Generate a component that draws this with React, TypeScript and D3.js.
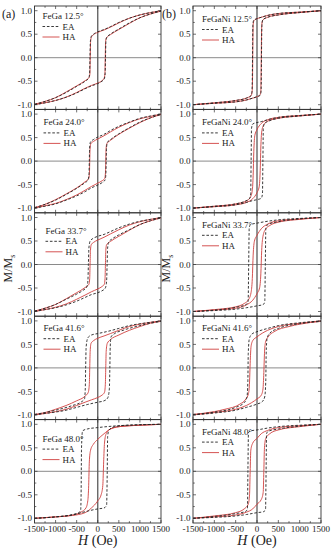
import * as d3 from "d3";

const ALLOYS = ["FeGa", "FeGaNi"];
const ANGLES = ["12.5°", "24.0°", "33.7°", "41.6°", "48.0°"];
const TAGS = ["(a)", "(b)"];
const H_LABELS = [-1500, -1000, -500, 0, 500, 1000, 1500];
const M_LABELS = [-1, -0.5, 0, 0.5, 1];

// descending branches [H (Oe), M/Ms]
const feGaHA = [
  [[1500, 1.0], [1250, 0.96], [1000, 0.91], [750, 0.84], [500, 0.74], [300, 0.65], [150, 0.59], [0, 0.54], [-100, 0.49], [-150, 0.44], [-170, 0.34], [-178, 0], [-186, -0.34], [-205, -0.42], [-300, -0.49], [-500, -0.6], [-750, -0.73], [-1000, -0.85], [-1250, -0.93], [-1500, -0.99]],
  [[1500, 1.0], [1250, 0.95], [1000, 0.9], [750, 0.82], [500, 0.72], [300, 0.62], [150, 0.54], [0, 0.47], [-100, 0.42], [-165, 0.37], [-183, 0.25], [-190, 0], [-197, -0.25], [-215, -0.37], [-300, -0.44], [-500, -0.57], [-750, -0.7], [-1000, -0.82], [-1250, -0.92], [-1500, -0.99]],
  [[1500, 1.0], [1250, 0.96], [1000, 0.91], [750, 0.84], [500, 0.74], [300, 0.65], [150, 0.58], [0, 0.52], [-100, 0.47], [-155, 0.42], [-173, 0.3], [-182, 0], [-191, -0.3], [-210, -0.42], [-300, -0.49], [-500, -0.6], [-750, -0.73], [-1000, -0.85], [-1250, -0.93], [-1500, -0.99]],
  [[1500, 1.0], [1250, 0.97], [1000, 0.93], [750, 0.88], [500, 0.8], [300, 0.73], [150, 0.68], [0, 0.63], [-100, 0.58], [-160, 0.52], [-180, 0.35], [-190, 0], [-200, -0.35], [-225, -0.52], [-300, -0.6], [-500, -0.7], [-750, -0.8], [-1000, -0.88], [-1250, -0.95], [-1500, -0.99]],
  [[1500, 1.0], [1000, 0.98], [600, 0.96], [300, 0.9], [150, 0.8], [0, 0.68], [-100, 0.58], [-170, 0.45], [-200, 0.2], [-215, -0.3], [-235, -0.62], [-280, -0.78], [-400, -0.87], [-600, -0.93], [-1000, -0.97], [-1500, -1.0]],
];
const feGaEA = [
  [[1500, 1.0], [1250, 0.96], [1000, 0.91], [750, 0.84], [500, 0.75], [300, 0.66], [150, 0.6], [0, 0.55], [-100, 0.5], [-155, 0.45], [-175, 0.34], [-184, 0], [-193, -0.34], [-212, -0.43], [-300, -0.5], [-500, -0.61], [-750, -0.74], [-1000, -0.85], [-1250, -0.93], [-1500, -0.99]],
  [[1500, 1.0], [1250, 0.96], [1000, 0.91], [750, 0.83], [500, 0.74], [300, 0.65], [150, 0.57], [0, 0.51], [-100, 0.46], [-175, 0.4], [-193, 0.27], [-200, 0], [-207, -0.27], [-230, -0.4], [-320, -0.47], [-500, -0.58], [-750, -0.71], [-1000, -0.83], [-1250, -0.92], [-1500, -0.99]],
  [[1500, 1.0], [1250, 0.96], [1000, 0.92], [750, 0.86], [500, 0.78], [300, 0.7], [150, 0.64], [0, 0.6], [-100, 0.56], [-180, 0.5], [-210, 0.35], [-222, 0], [-234, -0.35], [-262, -0.48], [-350, -0.55], [-500, -0.63], [-750, -0.74], [-1000, -0.85], [-1250, -0.93], [-1500, -0.99]],
  [[1500, 1.0], [1250, 0.97], [1000, 0.94], [750, 0.9], [500, 0.84], [250, 0.78], [0, 0.73], [-150, 0.7], [-235, 0.64], [-275, 0.45], [-287, 0], [-296, -0.45], [-315, -0.66], [-400, -0.73], [-600, -0.8], [-1000, -0.9], [-1250, -0.95], [-1500, -0.99]],
  [[1500, 1.0], [1000, 0.99], [500, 0.97], [0, 0.93], [-250, 0.9], [-360, 0.86], [-385, 0.5], [-395, -0.5], [-405, -0.82], [-450, -0.88], [-600, -0.92], [-1000, -0.97], [-1500, -1.0]],
];
// ascending branches that are not a mirror of the descending one
const feGaHAUp = [null, null, null, null,
  [[-1500, -1.0], [-1000, -0.97], [-600, -0.94], [-300, -0.88], [-150, -0.78], [0, -0.63], [80, -0.5], [120, -0.3], [140, 0.2], [160, 0.6], [200, 0.8], [300, 0.9], [500, 0.95], [1000, 0.98], [1500, 1.0]],
];
const feGaEAUp = [null, null, null, null,
  [[-1500, -1.0], [-1000, -0.97], [-600, -0.93], [-300, -0.86], [0, -0.8], [150, -0.78], [210, -0.72], [225, 0], [235, 0.75], [270, 0.88], [400, 0.95], [700, 0.98], [1500, 1.0]],
];

const feGaNiHA = [
  [[1500, 1.0], [1000, 0.97], [500, 0.94], [250, 0.9], [100, 0.86], [0, 0.83], [-70, 0.79], [-90, 0.7], [-97, 0.3], [-103, -0.3], [-112, -0.7], [-135, -0.8], [-250, -0.86], [-500, -0.91], [-1000, -0.96], [-1500, -1.0]],
  [[1500, 1.0], [1000, 0.97], [500, 0.93], [250, 0.88], [100, 0.8], [0, 0.67], [-50, 0.55], [-75, 0.2], [-90, -0.3], [-110, -0.62], [-150, -0.76], [-250, -0.85], [-500, -0.91], [-1000, -0.96], [-1500, -1.0]],
  [[1500, 1.0], [1000, 0.97], [500, 0.93], [250, 0.86], [100, 0.76], [0, 0.62], [-60, 0.5], [-90, 0.2], [-110, -0.3], [-140, -0.6], [-200, -0.75], [-300, -0.83], [-500, -0.9], [-1000, -0.96], [-1500, -1.0]],
  [[1500, 1.0], [1000, 0.95], [500, 0.88], [250, 0.8], [0, 0.66], [-100, 0.58], [-140, 0.45], [-160, 0.1], [-175, -0.3], [-200, -0.55], [-260, -0.66], [-400, -0.77], [-750, -0.88], [-1000, -0.93], [-1500, -0.99]],
  [[1500, 1.0], [1000, 0.97], [500, 0.93], [250, 0.87], [100, 0.8], [0, 0.7], [-100, 0.6], [-145, 0.45], [-160, 0.0], [-175, -0.5], [-205, -0.7], [-300, -0.8], [-500, -0.88], [-1000, -0.95], [-1500, -1.0]],
];
const feGaNiEA = [
  [[1500, 1.0], [1000, 0.97], [500, 0.94], [250, 0.9], [100, 0.86], [0, 0.83], [-75, 0.8], [-95, 0.72], [-102, 0.3], [-108, -0.3], [-117, -0.72], [-140, -0.81], [-250, -0.86], [-500, -0.91], [-1000, -0.96], [-1500, -1.0]],
  [[1500, 1.0], [1000, 0.97], [500, 0.93], [250, 0.88], [100, 0.84], [0, 0.82], [-100, 0.79], [-128, 0.7], [-138, 0.0], [-148, -0.7], [-170, -0.79], [-300, -0.86], [-500, -0.91], [-1000, -0.96], [-1500, -1.0]],
  [[1500, 1.0], [1000, 0.98], [500, 0.95], [250, 0.92], [0, 0.88], [-150, 0.85], [-182, 0.78], [-195, 0.0], [-208, -0.78], [-250, -0.85], [-500, -0.91], [-1000, -0.97], [-1500, -1.0]],
  [[1500, 1.0], [1000, 0.96], [500, 0.9], [250, 0.84], [0, 0.77], [-120, 0.72], [-180, 0.62], [-205, 0.3], [-215, -0.3], [-235, -0.62], [-300, -0.74], [-500, -0.84], [-1000, -0.94], [-1500, -0.99]],
  [[1500, 1.0], [1000, 0.98], [500, 0.95], [250, 0.92], [0, 0.88], [-150, 0.86], [-200, 0.82], [-213, 0.0], [-224, -0.8], [-260, -0.85], [-500, -0.9], [-1000, -0.96], [-1500, -1.0]],
];

const COLS = [
  { x0: 34.5, x1: 161, ha: feGaHA, ea: feGaEA, haUp: feGaHAUp, eaUp: feGaEAUp },
  { x0: 193, x1: 321, ha: feGaNiHA, ea: feGaNiEA, haUp: [null, null, null, null, null], eaUp: [null, null, null, null, null] },
];
// legend title centre below panel top, and left inset
const LEG_DY = [[10, 13, 18, 12, 19], [13, 13, 12, 12, 12]];
const LEG_DX = [[8, 9, 11, 9, 8], [9, 9, 9, 9, 9]];

const TOP = 6;
const PH = 103.4;
const RED = "#d0413f";
const FONT = "Liberation Serif, Times New Roman, DejaVu Serif, serif";

const sortH = (pts) => [...pts].sort((a, b) => a[0] - b[0]);
const mirror = (pts) => pts.map(([h, m]) => [-h, -m]);

export default function App() {
  const panels = [];
  COLS.forEach((c, ci) => {
    const x = d3.scaleLinear().domain([-1500, 1500]).range([c.x0, c.x1]);
    ANGLES.forEach((ang, ri) => {
      const top = TOP + ri * PH;
      const y = d3.scaleLinear().domain([-1.1, 1.1]).range([top + PH, top]);
      const line = d3
        .line()
        .x((d) => x(d[0]))
        .y((d) => y(d[1]))
        .curve(d3.curveMonotoneX);
      const haDown = c.ha[ri];
      const eaDown = c.ea[ri];
      const haUp = c.haUp[ri] || mirror(haDown);
      const eaUp = c.eaUp[ri] || mirror(eaDown);
      const lx = c.x0 + LEG_DX[ci][ri];
      const ly = top + LEG_DY[ci][ri];
      panels.push(
        <g key={`${ci}-${ri}`}>
          <line x1={x(-1500)} x2={x(1500)} y1={y(0)} y2={y(0)} stroke="#8a8a8a" strokeWidth={1} />
          <line x1={x(0)} x2={x(0)} y1={top} y2={top + PH} stroke="#5a5a5a" strokeWidth={1.3} />
          {[haDown, haUp].map((b, i) => (
            <path key={"h" + i} d={line(sortH(b))} fill="none" stroke={RED} strokeWidth={0.9} />
          ))}
          {[eaDown, eaUp].map((b, i) => (
            <path key={"e" + i} d={line(sortH(b))} fill="none" stroke="#222" strokeWidth={0.9} strokeDasharray="2.6,1.8" />
          ))}
          <rect x={c.x0} y={top} width={c.x1 - c.x0} height={PH} fill="none" stroke="#333" strokeWidth={0.9} />
          {d3.range(-1500, 1501, 250).map((h) => {
            const len = h % 500 === 0 ? 3 : 1.8;
            return (
              <g key={"xt" + h} stroke="#333" strokeWidth={0.7}>
                <line x1={x(h)} x2={x(h)} y1={top} y2={top + len} />
                <line x1={x(h)} x2={x(h)} y1={top + PH} y2={top + PH - len} />
              </g>
            );
          })}
          {d3.range(-1, 1.01, 0.25).map((m) => {
            const len = Math.abs(m * 2 - Math.round(m * 2)) < 1e-6 ? 3 : 1.8;
            return (
              <g key={"yt" + m} stroke="#333" strokeWidth={0.7}>
                <line x1={c.x0} x2={c.x0 + len} y1={y(m)} y2={y(m)} />
                <line x1={c.x1} x2={c.x1 - len} y1={y(m)} y2={y(m)} />
              </g>
            );
          })}
          {M_LABELS.map((m) => (
            <text key={"yl" + m} x={c.x0 - 2.5} y={y(m)} dy="0.35em" textAnchor="end" fontSize={9} fill="#222">
              {m.toFixed(1)}
            </text>
          ))}
          <text x={lx} y={ly + 3} fontSize={9} fill="#222">{`${ALLOYS[ci]} ${ang}`}</text>
          <line x1={lx} x2={lx + 17} y1={ly + 10.5} y2={ly + 10.5} stroke="#222" strokeWidth={0.9} strokeDasharray="2.6,1.8" />
          <text x={lx + 20} y={ly + 13.5} fontSize={9} fill="#222">EA</text>
          <line x1={lx} x2={lx + 17} y1={ly + 21} y2={ly + 21} stroke={RED} strokeWidth={0.9} />
          <text x={lx + 20} y={ly + 24} fontSize={9} fill="#222">HA</text>
        </g>
      );
    });
    const bottom = TOP + 5 * PH;
    H_LABELS.forEach((h) => {
      panels.push(
        <text key={`xl${ci}${h}`} x={x(h)} y={bottom + 9} textAnchor="middle" fontSize={9} fill="#222">
          {h}
        </text>
      );
    });
    const cx = (c.x0 + c.x1) / 2;
    panels.push(
      <text key={`xt${ci}`} x={cx} y={bottom + 22} textAnchor="middle" fontSize={14} fill="#222">
        <tspan fontStyle="italic">H</tspan> (Oe)
      </text>
    );
    panels.push(
      <text key={`yt${ci}`} transform={`translate(${c.x0 - 23},${TOP + 2.5 * PH + 4}) rotate(-90)`} textAnchor="middle" fontSize={12} fill="#222">
        M/M<tspan fontSize={8} dy="3">s</tspan>
      </text>
    );
    panels.push(
      <text key={`tag${ci}`} x={ci === 0 ? 2 : 162} y={18} fontSize={12} fill="#222">
        {TAGS[ci]}
      </text>
    );
  });

  return (
    <svg
      width={333}
      height={550}
      style={{ position: "absolute", left: 0, top: 0, background: "#fff" }}
    >
      <g fontFamily={FONT}>{panels}</g>
    </svg>
  );
}
